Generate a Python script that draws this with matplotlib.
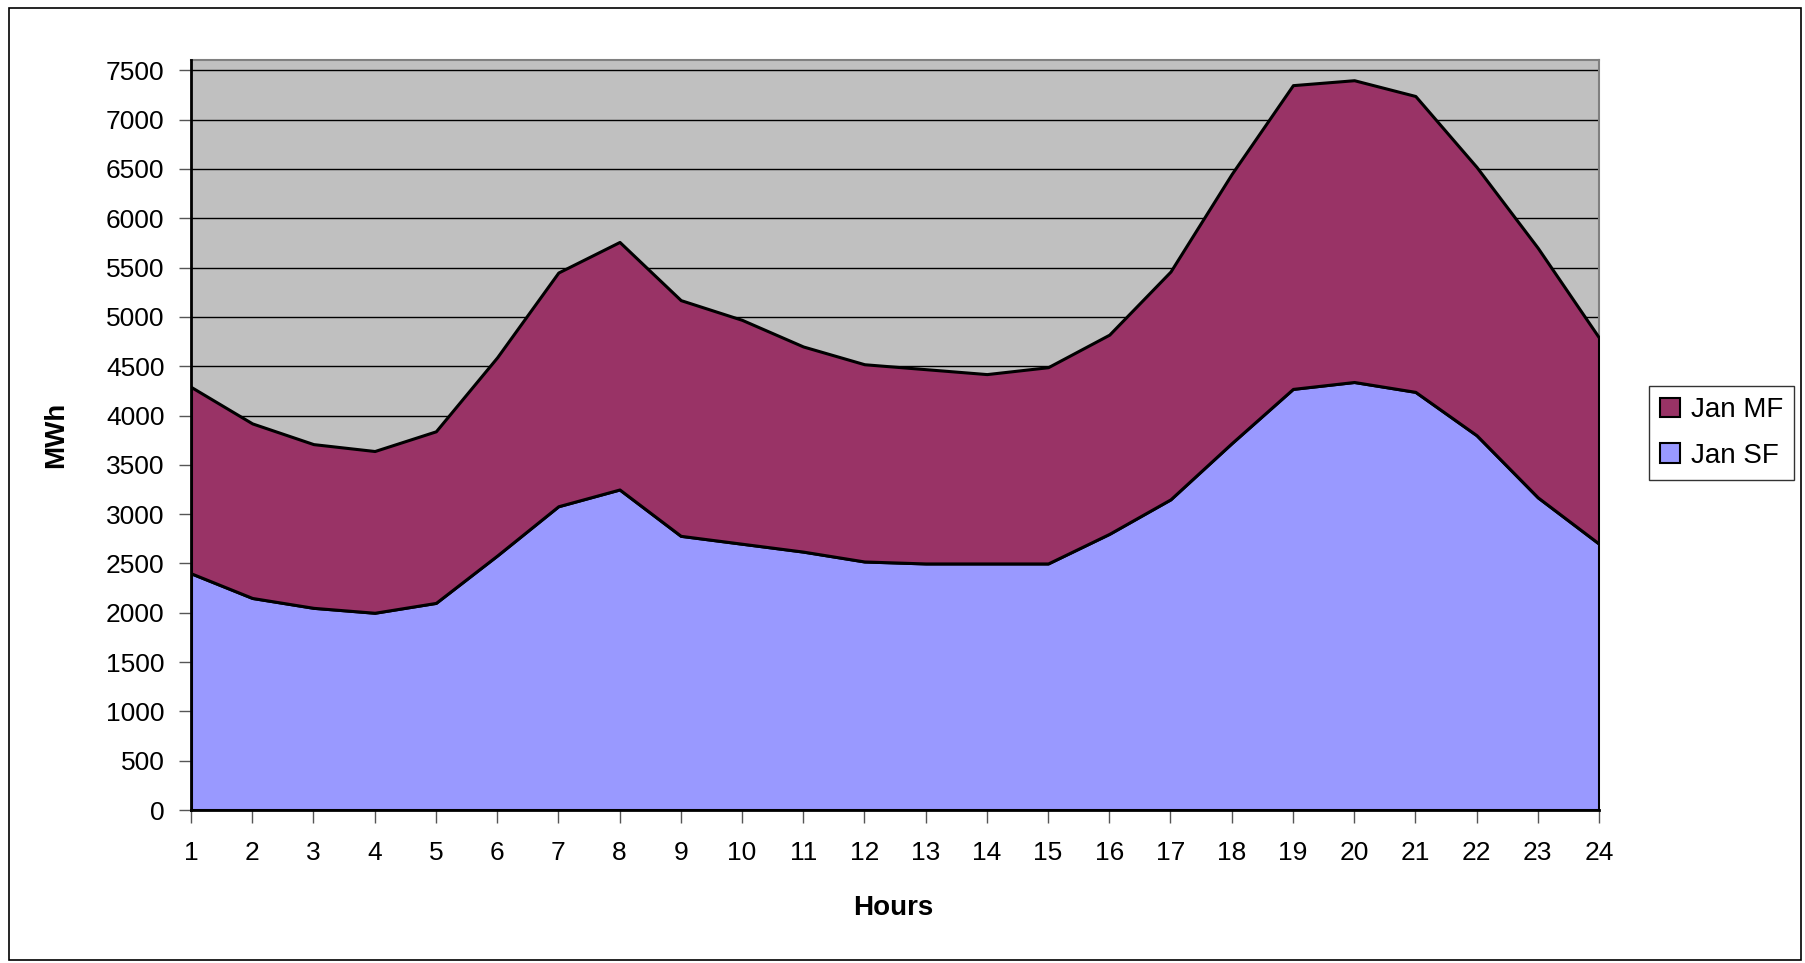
import matplotlib.pyplot as plt
import matplotlib.patches as mpatches
import numpy as np

plt.rcParams['font.family'] = ['Liberation Sans', 'DejaVu Sans']

# Hourly load, January
hours = list(range(1, 25))
jan_sf = [2400, 2150, 2050, 2000, 2100, 2580, 3080, 3250, 2780, 2700, 2620, 2520,
          2500, 2500, 2500, 2800, 3150, 3720, 4270, 4340, 4240, 3800, 3170, 2700]
jan_mf = [1890, 1770, 1660, 1640, 1740, 2010, 2370, 2510, 2390, 2270, 2080, 2000,
          1970, 1920, 1990, 2020, 2310, 2730, 3080, 3060, 3000, 2720, 2530, 2090]
y_ticks = list(range(0, 7501, 500))

sf_color = '#9999FF'
mf_color = '#993366'

fig = plt.figure(figsize=(18.05, 9.63), dpi=100)
ax = fig.add_axes([191 / 1805, 1 - 810 / 963, (1599 - 191) / 1805, (810 - 60) / 963])
ax.set_facecolor('#C0C0C0')

ax.stackplot(hours, jan_sf, jan_mf, colors=[sf_color, mf_color],
             edgecolor='black', linewidth=2.2, zorder=3)

ax.set_xlim(1, 24)
ax.set_ylim(0, 7605)
ax.set_xticks(hours)
ax.set_yticks(y_ticks)
ax.tick_params(axis='both', labelsize=19, direction='out', length=9,
               width=1, color='#555555')
ax.tick_params(axis='x', pad=13)
ax.tick_params(axis='y', pad=10)
ax.grid(True, axis='y', color='black', linewidth=1, zorder=1)
ax.set_axisbelow(True)

for side in ['top', 'right']:
    ax.spines[side].set_color('#808080')
    ax.spines[side].set_linewidth(1.5)
for side in ['left', 'bottom']:
    ax.spines[side].set_color('black')
    ax.spines[side].set_linewidth(2)
    ax.spines[side].set_zorder(4)

ax.set_xlabel('Hours', fontsize=20, fontweight='bold')
ax.xaxis.set_label_coords((893 - 191) / (1599 - 191), -(895 - 810) / (810 - 60))
ax.set_ylabel('MWh', fontsize=20, fontweight='bold')
ax.yaxis.set_label_coords(-(191 - 69) / (1599 - 191), 0.5)

handles = [mpatches.Patch(facecolor=mf_color, edgecolor='black', linewidth=1.5, label='Jan MF'),
           mpatches.Patch(facecolor=sf_color, edgecolor='black', linewidth=1.5, label='Jan SF')]
leg = ax.legend(handles=handles, loc='center left', bbox_to_anchor=(1649 / 1805, 1 - 433 / 963),
                bbox_transform=fig.transFigure, fontsize=20, frameon=True, fancybox=False,
                handlelength=0.7, handleheight=0.7, handletextpad=0.4,
                labelspacing=0.7, borderpad=0.4, borderaxespad=0)
leg.get_frame().set_edgecolor('black')
leg.get_frame().set_linewidth(1)

# outer chart border
fig.patches.append(mpatches.Rectangle((9 / 1805, 3 / 963), (1801 - 9) / 1805, (955 - 3) / 963,
                                      transform=fig.transFigure, fill=False,
                                      edgecolor='black', linewidth=1.2))

plt.savefig('out.png', dpi=100)
